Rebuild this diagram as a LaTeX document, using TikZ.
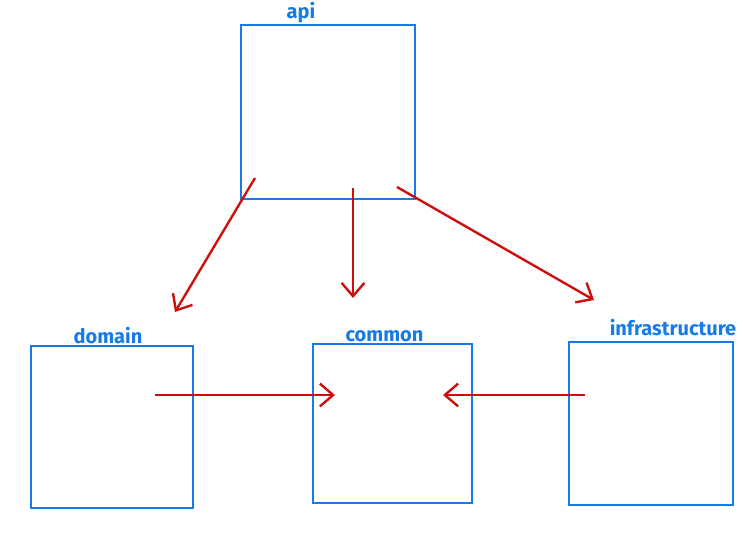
\documentclass[tikz,border=0pt]{standalone}
\usepackage{fontspec}
\setmainfont{Fira Sans}
\usepackage{xcolor}
\usetikzlibrary{positioning,arrows.meta,calc}
\definecolor{sketchblue}{RGB}{22,122,232}
\definecolor{sketchred}{RGB}{204,16,16}
\tikzset{
module/.style={
draw=sketchblue,
line width=1.9pt,
inner sep=0pt
},
tag/.style={
text=sketchblue,
font=\fontsize{15}{15}\selectfont\bfseries,
inner sep=0.5pt
},
arrow/.style={
-{Straight Barb[length=3.5mm,width=6mm,line width=1.8pt]},
draw=sketchred,
line width=1.8pt
}
}

\begin{document}
\begin{tikzpicture}[x=0.75pt,y=-0.75pt]
\useasboundingbox (0,0) rectangle (743,544);
% modules
\node[module,minimum width=130.5pt,minimum height=130.5pt](api) at (328,112){};
\node[module,minimum width=121.5pt,minimum height=121.5pt](domain) at (112,427){};
\node[module,minimum width=119pt,minimum height=119pt](common) at (392.5,423.5){};
\node[module,minimum width=123pt,minimum height=122pt](infra) at (651,423.5){};

% names above the boxes
\node[tag,anchor=south] at ($(api.north)+(-27,0)$){api};
\node[tag,anchor=south] at ($(domain.north)+(-4,0)$){domain};
\node[tag,anchor=south] at ($(common.north)+(-8,0)$){common};
\node[tag,anchor=south] at ($(infra.north)+(22,-4)$){infrastructure};

% arrow ends
\coordinate(s1) at (255,178);
\coordinate(e1) at (175,312);
\coordinate(s2) at (353,188);
\coordinate(e2) at (353,298);
\coordinate(s3) at (397,187);
\coordinate(e3) at (594,300);
\coordinate(s4) at (155,395);
\coordinate(e4) at (335,395);
\coordinate(s5) at (585,395);
\coordinate(e5) at (443,395);

\foreach \x/\y in {s1/e1,s2/e2,s3/e3,s4/e4,s5/e5}
\draw[arrow](\x)--(\y);
\end{tikzpicture}
\end{document}
